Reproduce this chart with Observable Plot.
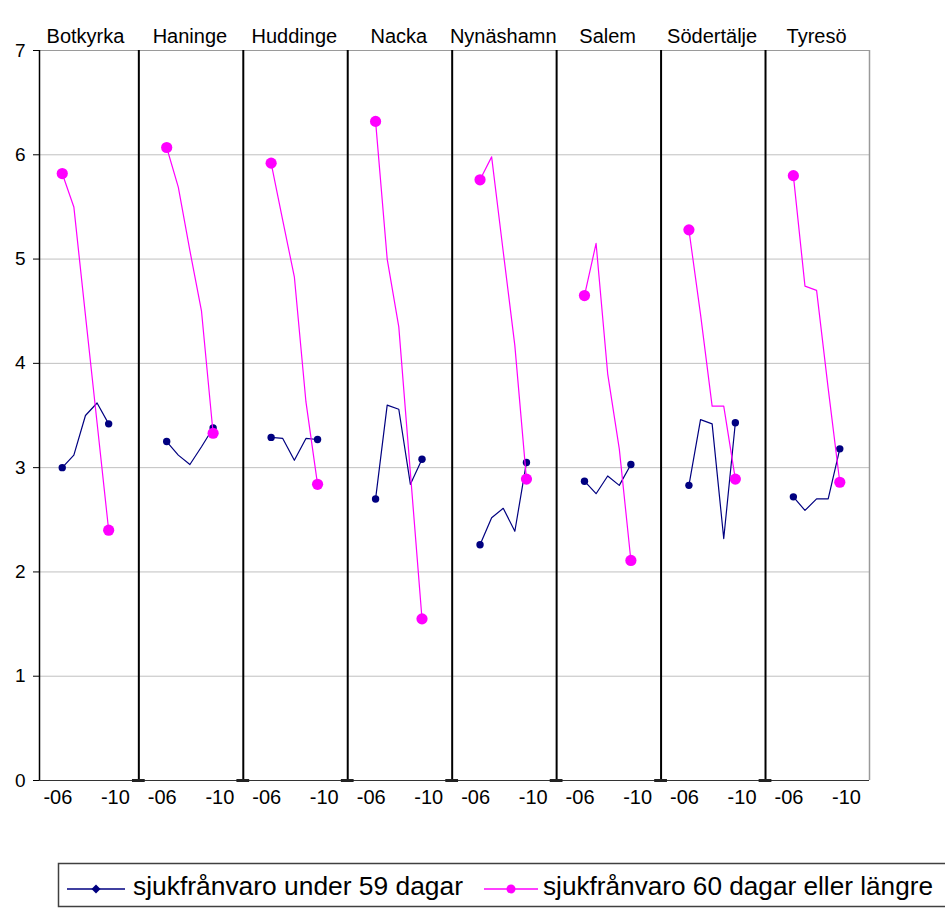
<!DOCTYPE html>
<html>
<head>
<meta charset="utf-8">
<script src="https://cdn.jsdelivr.net/npm/d3@7"></script>
<script src="https://cdn.jsdelivr.net/npm/@observablehq/plot@0.6"></script>
<style>
  html, body { margin: 0; padding: 0; background: #fff; }
  #chart svg, #legend svg { display: block; }
</style>
</head>
<body>
<div id="chart"></div>
<div id="legend"></div>
<script>
// ---- Data ----
const municipalities = ["Botkyrka", "Haninge", "Huddinge", "Nacka", "Nynäshamn", "Salem", "Södertälje", "Tyresö"];
const years = [2006, 2007, 2008, 2009, 2010];
const yearTickLabels = ["-06", "-10"];
const yTicks = [0, 1, 2, 3, 4, 5, 6, 7];
const seriesNames = ["sjukfrånvaro under 59 dagar", "sjukfrånvaro 60 dagar eller längre"];

// sjukfrånvaro under 59 dagar, per kommun, 2006–2010
const under59 = [
  [3.00, 3.12, 3.50, 3.62, 3.42],
  [3.25, 3.12, 3.03, 3.20, 3.38],
  [3.29, 3.28, 3.07, 3.28, 3.27],
  [2.70, 3.60, 3.56, 2.84, 3.08],
  [2.26, 2.52, 2.61, 2.39, 3.05],
  [2.87, 2.75, 2.92, 2.83, 3.03],
  [2.83, 3.46, 3.42, 2.32, 3.43],
  [2.72, 2.59, 2.70, 2.70, 3.18]
];
// sjukfrånvaro 60 dagar eller längre, per kommun, 2006–2010
const over60 = [
  [5.82, 5.50, 4.46, 3.43, 2.40],
  [6.07, 5.69, 5.08, 4.50, 3.33],
  [5.92, 5.37, 4.83, 3.63, 2.84],
  [6.32, 5.00, 4.35, 2.95, 1.55],
  [5.76, 5.98, 5.07, 4.17, 2.89],
  [4.65, 5.15, 3.90, 3.18, 2.11],
  [5.28, 4.47, 3.59, 3.59, 2.89],
  [5.80, 4.74, 4.70, 3.76, 2.86]
];

const navy = "#000080";
const magenta = "#ff00ff";
const font = "'Liberation Sans', Arial, Helvetica, sans-serif";

// ---- Build table: each kommun occupies 9 category slots, years in slots 0..4 ----
const slotsPerPanel = 9;
const rows = [];
municipalities.forEach((m, p) => {
  years.forEach((yr, j) => {
    rows.push({kommun: m, year: yr, j, pos: p * slotsPerPanel + j, under: under59[p][j], over: over60[p][j]});
  });
});
const endRows = rows.filter(d => d.j === 0 || d.j === years.length - 1);

const dividers = d3.range(municipalities.length - 1).map(k => k * slotsPerPanel + 6.6);
const xMin = -1.96, xMax = 69.56;

const tickVals = [];
const tickLab = new Map();
municipalities.forEach((m, p) => {
  const a = p * slotsPerPanel - 0.38, b = p * slotsPerPanel + 4.58;
  tickVals.push(a, b);
  tickLab.set(a, yearTickLabels[0]);
  tickLab.set(b, yearTickLabels[1]);
});

const chart = Plot.plot({
  width: 945,
  height: 860,
  marginLeft: 39,
  marginRight: 76,
  marginTop: 50,
  marginBottom: 80,
  style: {fontFamily: font, fontSize: "19px", background: "#fff", color: "#000", overflow: "visible"},
  x: {type: "linear", domain: [xMin, xMax], axis: null},
  y: {domain: [0, 7], axis: null},
  marks: [
    // gridlines
    Plot.ruleY(yTicks.filter(v => v > 0 && v < 7), {stroke: "#c0c0c0", strokeWidth: 1}),
    Plot.ruleY([7], {stroke: "#9a9a9a", strokeWidth: 1}),
    Plot.ruleX([xMax], {stroke: "#9a9a9a", strokeWidth: 1.5}),
    // panel dividers
    Plot.ruleX(dividers, {stroke: "#000", strokeWidth: 2}),
    // axes lines
    Plot.ruleY([0], {stroke: "#333", strokeWidth: 1.2}),
    Plot.ruleX([xMin], {stroke: "#000", strokeWidth: 1.5}),
    Plot.ruleY(dividers, {x1: d => d - 0.55, x2: d => d + 0.55, y: () => 0, stroke: "#222", strokeWidth: 3}),
    // y axis
    Plot.axisY({ticks: yTicks, tickSize: 6, tickPadding: 8, tickFormat: d => String(d), fontSize: 19, stroke: "#000", label: null}),
    // x axis labels
    Plot.axisX({ticks: tickVals, tickSize: 0, tickPadding: 9, tickFormat: d => tickLab.get(d), fontSize: 20, label: null}),
    // kommun names
    Plot.text(municipalities, {x: (d, i) => i * slotsPerPanel + 2, frameAnchor: "top", lineAnchor: "bottom", dy: -8, text: d => d, fontSize: 20, fill: "#000"}),
    // series
    Plot.line(rows, {x: "pos", y: "under", z: "kommun", stroke: navy, strokeWidth: 1.2}),
    Plot.dot(endRows, {x: "pos", y: "under", r: 3.7, fill: navy, stroke: "none"}),
    Plot.line(rows, {x: "pos", y: "over", z: "kommun", stroke: magenta, strokeWidth: 1.2}),
    Plot.dot(endRows, {x: "pos", y: "over", r: 5.6, fill: magenta, stroke: "none"})
  ]
});
document.getElementById("chart").appendChild(chart);

// ---- Legend (below the chart) ----
const lg = d3.select("#legend").append("svg").attr("width", 945).attr("height", 49)
  .style("font-family", font);
lg.append("rect").attr("x", 58.5).attr("y", 3.5).attr("width", 1000).attr("height", 43)
  .attr("fill", "#fff").attr("stroke", "#404040").attr("stroke-width", 1.5);
const items = [
  {name: seriesNames[0], color: navy, x0: 67, x1: 125, tx: 133, tl: 330, shape: "diamond"},
  {name: seriesNames[1], color: magenta, x0: 484, x1: 538, tx: 543, tl: 390, shape: "circle"}
];
items.forEach(it => {
  lg.append("line").attr("x1", it.x0).attr("x2", it.x1).attr("y1", 29).attr("y2", 29)
    .attr("stroke", it.color).attr("stroke-width", 1.5);
  const cx = (it.x0 + it.x1) / 2;
  if (it.shape === "diamond") {
    lg.append("path").attr("d", `M${cx},${29 - 4.5}L${cx + 4.5},29L${cx},${29 + 4.5}L${cx - 4.5},29Z`).attr("fill", it.color);
  } else {
    lg.append("circle").attr("cx", cx).attr("cy", 29).attr("r", 4.5).attr("fill", it.color);
  }
  lg.append("text").attr("x", it.tx).attr("y", 35).attr("font-size", 26)
    .attr("textLength", it.tl).attr("lengthAdjust", "spacingAndGlyphs").attr("fill", "#000").text(it.name);
});
</script>
</body>
</html>
